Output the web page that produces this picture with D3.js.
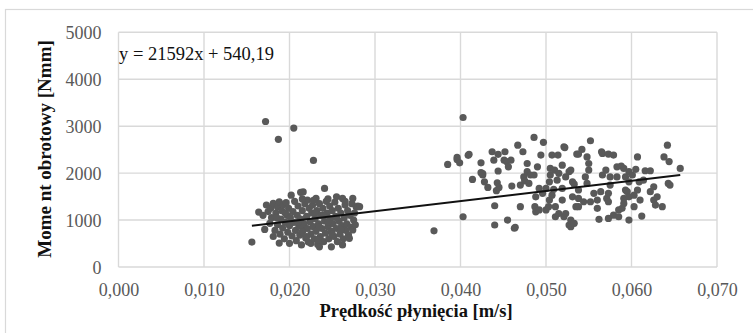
<!DOCTYPE html>
<html><head><meta charset="utf-8">
<script src="https://cdn.jsdelivr.net/npm/d3@7"></script>
<style>body{margin:0;background:#fff}svg{display:block}</style>
</head><body>
<svg id="c" width="753" height="333"></svg>
<script>
const xTicks = [0,0.01,0.02,0.03,0.04,0.05,0.06,0.07];
const yTicks = [0,1000,2000,3000,4000,5000];
const xTitle = "Prędkość płynięcia [m/s]";
const yTitle = "Mome nt obrotowy [Nmm]";
const equation = "y = 21592x + 540,19";
const slope = 21592, intercept = 540.19;

// cluster of low flow speeds
const pointsLow = [
[0.0172,3100],[0.0187,2720],[0.0205,2960],[0.0228,2270],[0.0156,530],
[0.0164,1170],[0.0169,1100],[0.0173,1320],[0.0171,800],[0.0177,930],[0.0175,1180],[0.0178,1250],[0.0179,1050],[0.0181,1355],[0.0181,650],
[0.0183,780],[0.0184,1150],[0.0186,1280],[0.0186,900],[0.0188,1390],[0.0188,510],[0.0189,700],[0.0190,1020],[0.0191,1200],[0.0192,830],
[0.0193,1330],[0.0194,600],[0.0195,950],[0.0196,1370],[0.0197,1100],[0.0198,740],[0.0199,1250],[0.0200,505],[0.0200,880],[0.0201,1050],
[0.0202,1530],[0.0203,660],[0.0204,1180],[0.0205,950],[0.0206,1400],[0.0207,780],[0.0208,560],[0.0209,1100],[0.0210,1300],[0.0211,870],
[0.0212,680],[0.0213,1590],[0.0213,1020],[0.0214,470],[0.0215,1200],[0.0216,1600],[0.0216,780],[0.0217,920],[0.0218,1350],[0.0219,620],
[0.0220,1080],[0.0221,1425],[0.0221,820],[0.0222,530],[0.0223,1250],[0.0224,960],[0.0225,505],[0.0225,700],[0.0226,1150],[0.0227,1320],
[0.0228,860],[0.0229,600],[0.0230,1030],[0.0231,1460],[0.0231,760],[0.0232,1200],[0.0233,480],[0.0234,920],[0.0235,430],[0.0235,1350],
[0.0236,650],[0.0237,1100],[0.0238,820],[0.0239,1250],[0.0240,540],[0.0241,1675],[0.0241,980],[0.0242,720],[0.0243,1400],[0.0244,1150],
[0.0245,860],[0.0246,600],[0.0247,1300],[0.0248,1030],[0.0249,430],[0.0249,760],[0.0250,1200],[0.0251,920],[0.0252,650],[0.0253,1380],
[0.0254,1080],[0.0255,1495],[0.0255,820],[0.0256,540],[0.0257,1250],[0.0258,980],[0.0259,700],[0.0260,1150],[0.0261,880],[0.0262,1460],
[0.0262,470],[0.0263,600],[0.0264,1050],[0.0265,1320],[0.0266,780],[0.0267,920],[0.0268,1200],[0.0269,680],[0.0270,610],[0.0271,1100],
[0.0272,850],[0.0273,1350],[0.0274,1460],[0.0274,790],[0.0275,1000],[0.0276,1150],[0.0277,900],[0.0278,1280],[0.0280,1300],[0.0282,1285],
[0.0185,1050],[0.0195,1150],[0.0210,950],[0.0215,750],[0.0220,650],[0.0230,1150],[0.0235,850],[0.0240,1100],[0.0245,950],[0.0250,700],
[0.0255,1050],[0.0260,800],[0.0215,1450],[0.0245,1450],[0.0265,1400],[0.0233,580],[0.0228,1420]
];

// cluster of high flow speeds
const pointsHigh = [
[0.0403,3185],[0.0369,770],[0.0385,2185],[0.0396,2290],[0.0396,2335],[0.0399,2220],[0.0403,1070],[0.0409,2380],[0.0410,2400],[0.0414,1865],
[0.0424,2220],[0.0424,2010],[0.0426,1960],[0.0426,1990],[0.0428,1815],[0.0432,1695],[0.0437,2455],[0.0439,2275],[0.0440,1305],[0.0440,895],
[0.0442,1625],[0.0443,1795],[0.0444,2400],[0.0444,2045],[0.0445,1695],[0.0451,2275],[0.0452,2455],[0.0454,2245],[0.0455,1000],[0.0456,2135],
[0.0459,2275],[0.0460,1725],[0.0463,825],[0.0464,845],[0.0467,2595],[0.0470,1745],[0.0470,1285],[0.0473,2455],[0.0474,1920],[0.0475,1835],
[0.0478,2030],[0.0478,2205],[0.0480,1780],[0.0482,1960],[0.0486,2760],[0.0486,1960],[0.0487,1285],[0.0488,1175],[0.0488,1495],[0.0490,2135],
[0.0492,1215],[0.0492,1675],[0.0494,2385],[0.0496,1570],[0.0497,2655],[0.0500,1675],[0.0500,1215],[0.0503,1285],[0.0504,1815],[0.0504,1425],
[0.0505,2100],[0.0505,1960],[0.0507,2385],[0.0507,1530],[0.0509,1655],[0.0510,2065],[0.0511,1285],[0.0511,1070],[0.0513,1850],[0.0514,2385],
[0.0515,1995],[0.0515,1140],[0.0519,2170],[0.0519,1675],[0.0519,1425],[0.0521,2560],[0.0521,1070],[0.0522,2545],[0.0523,1920],[0.0523,1140],
[0.0527,2030],[0.0527,895],[0.0529,2065],[0.0529,1000],[0.0529,860],[0.0531,1815],[0.0531,1495],[0.0533,930],[0.0533,1765],[0.0535,1285],
[0.0536,2405],[0.0538,2405],[0.0538,1640],[0.0538,1460],[0.0538,1285],[0.0542,2505],[0.0544,1390],[0.0546,1920],[0.0548,2345],[0.0548,1780],
[0.0550,2205],[0.0550,2065],[0.0552,2690],[0.0552,1390],[0.0556,1570],[0.0560,1250],[0.0560,1425],[0.0562,1015],[0.0564,1605],[0.0565,2455],
[0.0566,2420],[0.0566,1960],[0.0570,2065],[0.0571,1460],[0.0573,2405],[0.0573,1570],[0.0573,1390],[0.0573,1035],[0.0575,1920],[0.0575,1745],
[0.0579,2385],[0.0579,1105],[0.0583,2135],[0.0583,1920],[0.0585,1215],[0.0585,1070],[0.0588,2150],[0.0589,1250],[0.0591,2100],[0.0591,1355],
[0.0591,1460],[0.0593,1920],[0.0593,1640],[0.0595,1605],[0.0597,1815],[0.0597,1495],[0.0597,1000],[0.0597,2030],[0.0601,1960],[0.0603,1530],
[0.0603,1285],[0.0605,2080],[0.0607,2345],[0.0607,1640],[0.0609,1815],[0.0610,1425],[0.0612,1085],[0.0614,1850],[0.0616,2050],[0.0622,2050],
[0.0622,1605],[0.0626,1710],[0.0626,1425],[0.0628,1320],[0.0630,1495],[0.0636,1285],[0.0638,2345],[0.0642,2595],[0.0643,1780],[0.0644,2245],
[0.0645,1745],[0.0657,2100]
];

const points = pointsLow.concat(pointsHigh);

const svg = d3.select("#c");
const font = "'Liberation Serif','Times New Roman',serif";
const grid = "#d9d9d9";

svg.append("rect").attr("x",5.5).attr("y",9.5).attr("width",800).attr("height",400)
  .attr("fill","#fff").attr("stroke",grid).attr("stroke-width",1.2);

const m = {l:118.5, r:717, t:32.3, b:267};
const x = d3.scaleLinear().domain([0,0.07]).range([m.l,m.r]);
const y = d3.scaleLinear().domain([0,5000]).range([m.b,m.t]);

// gridlines
svg.append("g").selectAll("line").data(xTicks).join("line")
  .attr("x1",d=>x(d)).attr("x2",d=>x(d)).attr("y1",m.t).attr("y2",m.b)
  .attr("stroke",grid).attr("stroke-width",1.4);
svg.append("g").selectAll("line").data(yTicks).join("line")
  .attr("x1",m.l).attr("x2",m.r).attr("y1",d=>y(d)).attr("y2",d=>y(d))
  .attr("stroke",grid).attr("stroke-width",1.4);

// axes (labels only)
const fmtX = d=>d3.format(".3f")(d).replace(".",",");
const xAxis = svg.append("g").attr("transform",`translate(0,${m.b})`)
  .call(d3.axisBottom(x).tickValues(xTicks).tickFormat(fmtX).tickSize(0).tickPadding(16));
const yAxis = svg.append("g").attr("transform",`translate(${m.l},0)`)
  .call(d3.axisLeft(y).tickValues(yTicks).tickFormat(d3.format("d")).tickSize(0).tickPadding(17));
[xAxis,yAxis].forEach(a=>{
  a.select(".domain").remove();
  a.selectAll("text").attr("fill","#595959").style("font-family",font).style("font-size","18px");
});
yAxis.selectAll("text").attr("dy","0.36em");

// points
svg.append("g").selectAll("circle").data(points).join("circle")
  .attr("cx",d=>x(d[0])).attr("cy",d=>y(d[1])).attr("r",3.6).attr("fill","#595959");

// trendline
const xe = d3.extent(points,d=>d[0]);
svg.append("line").attr("x1",x(xe[0])).attr("y1",y(slope*xe[0]+intercept))
  .attr("x2",x(xe[1])).attr("y2",y(slope*xe[1]+intercept))
  .attr("stroke","#111").attr("stroke-width",2);

// equation
svg.append("text").attr("x",119).attr("y",59.5).text(equation)
  .attr("fill","#111").style("font-family",font).style("font-size","18.5px");

// titles
svg.append("text").attr("x",416).attr("y",316.5).attr("text-anchor","middle").text(xTitle)
  .attr("fill","#111").style("font-family",font).style("font-size","18.5px").style("font-weight","bold");
svg.append("text").attr("transform","translate(51,149) rotate(-90)").attr("text-anchor","middle").text(yTitle)
  .attr("fill","#111").style("font-family",font).style("font-size","19px").style("font-weight","bold");
</script>
</body></html>
